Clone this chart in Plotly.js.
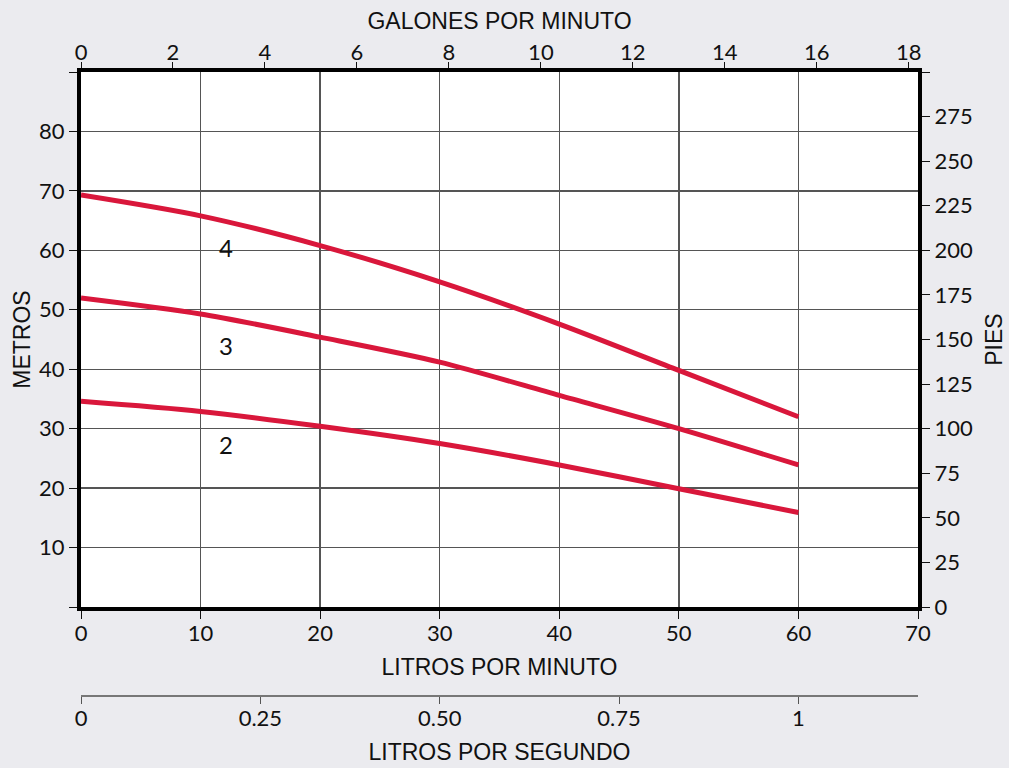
<!DOCTYPE html>
<html>
<head>
<meta charset="utf-8">
<script src="https://cdn.plot.ly/plotly-3.0.1.min.js"></script>
<style>
  html, body { margin: 0; padding: 0; background: #ebebef; }
  #chart { width: 1009px; height: 768px; }
</style>
</head>
<body>
<div id="chart"></div>
<script>
// Flow in litres per minute
const lpm = [0, 10, 20, 30, 40, 50, 60];
// Head in metres for 4, 3 and 2 stages
const head4 = [69.3, 65.8, 60.8, 54.7, 47.6, 39.8, 32.0];
const head3 = [52.0, 49.3, 45.4, 41.2, 35.6, 30.0, 23.9];
const head2 = [34.6, 32.9, 30.4, 27.5, 23.9, 19.9, 15.9];
// Curve labels
const stageNames = ['4', '3', '2'];
const stageLabelFlow = [12.1, 12.1, 12.1];
const stageLabelHead = [60.5, 44.0, 27.4];
// Tick values and labels
const metrosTicks = [0, 10, 20, 30, 40, 50, 60, 70, 80, 90];
const metrosText = ['', '10', '20', '30', '40', '50', '60', '70', '80', ''];
const piesTicks = [0, 25, 50, 75, 100, 125, 150, 175, 200, 225, 250, 275, 300];
const piesText = ['0', '25', '50', '75', '100', '125', '150', '175', '200', '225', '250', '275', ''];
const lpmTicks = [0, 10, 20, 30, 40, 50, 60, 70];
const gpmTicks = [0, 2, 4, 6, 8, 10, 12, 14, 16, 18];
const lpsTicks = [0, 0.25, 0.5, 0.75, 1];
const lpsText = ['0', '0.25', '0.50', '0.75', '1'];

const RED = '#d9173b';
const tickFont = { family: 'Lato, "Open Sans", sans-serif', size: 22, color: '#111' };
const titleFont = { family: '"Liberation Sans", Arial, sans-serif', size: 23, color: '#111' };
const GRID = '#555';
const GPM_MAX = 18.2, FT_MAX = 300, M_MAX = 90, LPM_MAX = 70;

function curve(y) {
  return { x: lpm, y: y, xaxis: 'x', yaxis: 'y', mode: 'lines', type: 'scatter',
    line: { color: RED, width: 5, shape: 'spline', smoothing: 0.8 }, hoverinfo: 'skip', showlegend: false };
}
// invisible companions so the secondary unit axes are drawn
const data = [curve(head4), curve(head3), curve(head2),
  { x: lpm.map(v => v * GPM_MAX / LPM_MAX), y: head4.map(v => v * FT_MAX / M_MAX), xaxis: 'x2', yaxis: 'y2', mode: 'lines', opacity: 0, line: { width: 0 }, hoverinfo: 'skip', showlegend: false },
  { x: lpm.map(v => v / 60), y: head4, xaxis: 'x3', yaxis: 'y', mode: 'lines', opacity: 0, line: { width: 0 }, hoverinfo: 'skip', showlegend: false }
];

const mainDomain = [ (696 - 607) / 624, 1 ];

const layout = {
  width: 1009, height: 768,
  margin: { l: 81, r: 91, t: 72, b: 72 },
  paper_bgcolor: '#ebebef', plot_bgcolor: '#ffffff', showlegend: false,
  xaxis: {
    range: [0, LPM_MAX], tickvals: lpmTicks, ticks: 'outside', ticklen: 8, tickcolor: '#111', tickwidth: 1,
    ticklabelstandoff: -4,
    showgrid: true, gridcolor: GRID, gridwidth: 1.3, zeroline: false,
    showline: true, linecolor: '#000', linewidth: 4, tickfont: tickFont, anchor: 'y',
    title: { text: 'LITROS POR MINUTO', font: titleFont, standoff: 14 }
  },
  xaxis2: {
    range: [0, GPM_MAX], tickvals: gpmTicks, ticks: 'outside', ticklen: 6, tickcolor: '#111', tickwidth: 1,
    ticklabelstandoff: -7,
    side: 'top', overlaying: 'x', anchor: 'y2', showgrid: false, zeroline: false,
    showline: true, linecolor: '#000', linewidth: 4, tickfont: tickFont,
    title: { text: 'GALONES POR MINUTO', font: titleFont, standoff: 3 }
  },
  xaxis3: {
    range: [0, LPM_MAX / 60], tickvals: lpsTicks, ticktext: lpsText, ticks: 'outside', ticklen: 7, tickcolor: '#555', tickwidth: 1,
    ticklabelstandoff: -4,
    overlaying: 'x', anchor: 'free', position: 0, showgrid: false, zeroline: false,
    showline: true, linecolor: '#777', linewidth: 2, tickfont: tickFont,
    title: { text: 'LITROS POR SEGUNDO', font: titleFont, standoff: 12 }
  },
  yaxis: {
    domain: mainDomain, range: [0, M_MAX], tickvals: metrosTicks, ticktext: metrosText,
    ticks: 'outside', ticklen: 8, tickcolor: '#111', tickwidth: 1,
    showgrid: true, gridcolor: GRID, gridwidth: 1.3, zeroline: false,
    showline: true, linecolor: '#000', linewidth: 4, tickfont: tickFont,
    title: { text: 'METROS', font: titleFont, standoff: 3 }
  },
  yaxis2: {
    domain: mainDomain, range: [0, FT_MAX], tickvals: piesTicks, ticktext: piesText,
    ticks: 'outside', ticklen: 8, tickcolor: '#111', tickwidth: 1,
    side: 'right', overlaying: 'y', anchor: 'x2', showgrid: false, zeroline: false,
    showline: true, linecolor: '#000', linewidth: 4, tickfont: tickFont,
    title: { text: 'PIES', font: titleFont, standoff: 15 }
  },
  annotations: stageNames.map((s, i) => ({
    x: stageLabelFlow[i], y: stageLabelHead[i], xref: 'x', yref: 'y', text: s, showarrow: false,
    font: { family: 'Lato, "Open Sans", sans-serif', size: 24, color: '#111' }
  }))
};

Plotly.newPlot('chart', data, layout, { staticPlot: true, displayModeBar: false });
</script>
</body>
</html>
